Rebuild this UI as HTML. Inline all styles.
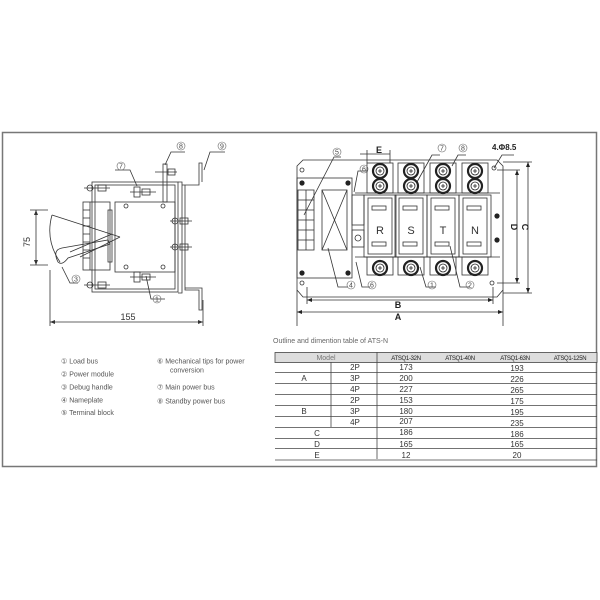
<!DOCTYPE html>
<html><head><meta charset="utf-8"><style>
html,body{margin:0;padding:0;background:#fff;}
svg{display:block;font-family:"Liberation Sans",sans-serif;}
</style></head><body>
<svg width="600" height="600" viewBox="0 0 600 600" xmlns="http://www.w3.org/2000/svg">
<defs><g id="b"><circle r="7" stroke="#222" stroke-width="2.2" fill="#fff"/><circle r="4" stroke="#222" stroke-width="0.8" fill="#fff"/><path d="M-2,0H2M0,-2V2" stroke="#222" stroke-width="0.8"/></g></defs>
<rect x="0" y="0" width="600" height="600" fill="#fff"/>
<rect x="2.5" y="132.5" width="594" height="334" fill="none" stroke="#777" stroke-width="1.5"/>

<g stroke="#333" stroke-width="0.8" fill="none">
  <rect x="92" y="182" width="86" height="110"/>
  <rect x="95" y="185" width="80" height="104"/>
  <polyline points="178,182 182,182 182,293 178,293"/>
  <polyline points="182,185 199,185 199,163 202,163 202,182"/>
  <polyline points="185,185 185,290 199,290 199,310 202,310 202,288 185,288"/>
  <rect x="115" y="202" width="60" height="70"/>
  <circle cx="126" cy="206" r="2"/><circle cx="163" cy="206" r="2"/>
  <circle cx="126" cy="267" r="2"/><circle cx="163" cy="267" r="2"/>
  <rect x="83" y="202" width="27" height="68"/>
  <line x1="90" y1="202" x2="90" y2="270"/>
  <line x1="83" y1="210" x2="90" y2="210"/><line x1="83" y1="218" x2="90" y2="218"/>
  <line x1="83" y1="226" x2="90" y2="226"/><line x1="83" y1="234" x2="90" y2="234"/>
  <line x1="83" y1="242" x2="90" y2="242"/><line x1="83" y1="250" x2="90" y2="250"/>
  <line x1="83" y1="258" x2="90" y2="258"/>
  <rect x="108" y="210" width="4" height="52"/>
  <line x1="52" y1="215" x2="120" y2="237"/>
  <line x1="80" y1="257" x2="120" y2="237"/>
  <path d="M52,215 Q45,240 60,262"/>
  <path d="M58,262 Q52,250 62,248 L108,240 L110,244 L68,258 Q62,266 58,262 Z"/>
  <line x1="70" y1="252" x2="112" y2="234"/>
  <line x1="84" y1="188" x2="110" y2="188"/><rect x="98" y="185" width="8" height="6"/><circle cx="90" cy="188" r="3"/>
  <line x1="84" y1="285" x2="110" y2="285"/><rect x="98" y="282" width="8" height="6"/><circle cx="90" cy="285" r="3"/>
  <line x1="130" y1="192" x2="156" y2="192"/><rect x="134" y="187" width="6" height="10"/><rect x="142" y="189" width="8" height="6"/>
  <line x1="130" y1="277" x2="156" y2="277"/><rect x="134" y="272" width="6" height="10"/><rect x="142" y="274" width="8" height="6"/>
  <line x1="155" y1="172" x2="177" y2="172"/><rect x="163" y="164" width="4" height="38"/><rect x="168" y="169" width="7" height="6"/>
  <line x1="170" y1="221" x2="192" y2="221"/><circle cx="175" cy="221" r="3"/><rect x="180" y="218" width="8" height="6"/>
  <line x1="170" y1="247" x2="192" y2="247"/><circle cx="175" cy="247" r="3"/><rect x="180" y="244" width="8" height="6"/>
  <line x1="36" y1="210" x2="36" y2="265"/><line x1="30" y1="210" x2="48" y2="210"/><line x1="30" y1="265" x2="48" y2="265"/>
  <line x1="50" y1="270" x2="50" y2="326"/><line x1="203" y1="300" x2="203" y2="326"/>
  <line x1="50" y1="322" x2="203" y2="322"/>
  <polyline points="62,267 70,283 78,283"/>
  <polyline points="146,276 151,299 165,299"/>
  <polyline points="137,186 130,170 115,170"/>
  <polyline points="165,165 171,152 185,152"/>
  <polyline points="204,170 210,152 225,152"/>
</g>
<g fill="#333"><path d="M36,210 l-2,5 h4z"/><path d="M36,265 l-2,-5 h4z"/><path d="M50,322 l5,-2 v4z"/><path d="M203,322 l-5,-2 v4z"/></g>
<g font-size="8" fill="#333">
  <text x="30" y="242" transform="rotate(-90 30 242)" text-anchor="middle" font-size="9">75</text>
  <text x="128" y="320" text-anchor="middle" font-size="9">155</text>
</g>
<g font-size="7" fill="#444" text-anchor="middle">
  <circle cx="76" cy="279" r="4" fill="none" stroke="#666" stroke-width="0.6"/><text x="76" y="281.5">3</text>
  <circle cx="157" cy="299" r="4" fill="none" stroke="#666" stroke-width="0.6"/><text x="157" y="301.5">1</text>
  <circle cx="121" cy="166" r="4" fill="none" stroke="#666" stroke-width="0.6"/><text x="121" y="168.5">7</text>
  <circle cx="181" cy="146" r="4" fill="none" stroke="#666" stroke-width="0.6"/><text x="181" y="148.5">8</text>
  <circle cx="222" cy="146" r="4" fill="none" stroke="#666" stroke-width="0.6"/><text x="222" y="148.5">9</text>
</g>

<g stroke="#333" stroke-width="0.8" fill="none">
  <path d="M303,160 H497 L503,166 V290 L497,297 H303 L297,290 V166 Z"/>
  <rect x="297" y="178" width="55" height="100"/>
  <rect x="298" y="190" width="16" height="60"/>
  <line x1="298" y1="200" x2="314" y2="200"/><line x1="298" y1="210" x2="314" y2="210"/><line x1="298" y1="220" x2="314" y2="220"/><line x1="298" y1="230" x2="314" y2="230"/><line x1="298" y1="240" x2="314" y2="240"/>
  <line x1="306" y1="190" x2="306" y2="250"/>
  <rect x="322" y="190" width="25" height="60"/><line x1="322" y1="190" x2="347" y2="250"/><line x1="347" y1="190" x2="322" y2="250"/>
  <rect x="352" y="195" width="12" height="30"/><rect x="352" y="230" width="12" height="17"/>
  <circle cx="358" cy="238" r="3"/>
  <line x1="355" y1="193" x2="500" y2="193"/><line x1="355" y1="257" x2="500" y2="257"/>
  <circle cx="302" cy="170" r="2"/><circle cx="302" cy="283" r="2"/><circle cx="492" cy="283" r="2"/><circle cx="494" cy="168" r="2"/>
  <g id="pole">
    <rect x="367" y="163" width="26" height="30"/>
    <rect x="367" y="257" width="26" height="18"/>
    <rect x="364" y="195" width="32" height="62"/>
    <rect x="368" y="198" width="24" height="56"/>
    <rect x="372" y="206" width="14" height="4"/><rect x="372" y="242" width="14" height="4"/>
  </g>
  <use href="#pole" x="31"/><use href="#pole" x="63"/><use href="#pole" x="95"/>
  <line x1="297" y1="290" x2="297" y2="326"/><line x1="503" y1="290" x2="503" y2="326"/>
  <line x1="307" y1="287" x2="307" y2="304"/><line x1="493" y1="287" x2="493" y2="304"/>
  <line x1="297" y1="312" x2="503" y2="312"/><line x1="307" y1="300" x2="493" y2="300"/>
  <line x1="497" y1="170" x2="520" y2="170"/><line x1="497" y1="283" x2="520" y2="283"/>
  <line x1="517" y1="170" x2="517" y2="283"/>
  <line x1="503" y1="162" x2="532" y2="162"/><line x1="503" y1="293" x2="532" y2="293"/>
  <line x1="528" y1="162" x2="528" y2="293"/>
  <line x1="360" y1="154" x2="390" y2="154"/><line x1="367" y1="150" x2="367" y2="163"/><line x1="390" y1="150" x2="390" y2="163"/>
  <polyline points="304,215 334,157 341,157"/>
  <polyline points="328,248 338,287 348,287"/>
  <polyline points="356,262 362,287 370,287"/>
  <polyline points="354,192 358,171 368,171"/>
  <polyline points="417,182 432,155 440,155"/>
  <polyline points="452,166 458,155 466,155"/>
  <polyline points="420,267 426,287 436,287"/>
  <polyline points="450,246 460,287 470,287"/>
  <polyline points="494,168 502,155 514,155"/>
</g>
<g fill="#222">
  <circle cx="302" cy="183" r="2.6"/><circle cx="348" cy="183" r="2.6"/><circle cx="302" cy="273" r="2.6"/><circle cx="348" cy="273" r="2.6"/>
  <circle cx="497" cy="216" r="2.6"/><circle cx="497" cy="240" r="2.6"/>
  <path d="M297,312 l5,-2 v4z"/><path d="M503,312 l-5,-2 v4z"/><path d="M307,300 l5,-2 v4z"/><path d="M493,300 l-5,-2 v4z"/>
  <path d="M517,170 l-2,5 h4z"/><path d="M517,283 l-2,-5 h4z"/><path d="M528,162 l-2,5 h4z"/><path d="M528,293 l-2,-5 h4z"/>
</g>
<use href="#b" x="380" y="171"/><use href="#b" x="380" y="186"/><use href="#b" x="380" y="268"/>
<use href="#b" x="411" y="171"/><use href="#b" x="411" y="186"/><use href="#b" x="411" y="268"/>
<use href="#b" x="443" y="171"/><use href="#b" x="443" y="186"/><use href="#b" x="443" y="268"/>
<use href="#b" x="475" y="171"/><use href="#b" x="475" y="186"/><use href="#b" x="475" y="268"/>
<g font-size="11" fill="#333" text-anchor="middle">
  <text x="380" y="234">R</text><text x="411" y="234">S</text><text x="443" y="234">T</text><text x="475" y="234">N</text>
</g>
<g font-size="9" font-weight="bold" fill="#222" text-anchor="middle">
  <text x="398" y="308">B</text><text x="398" y="320">A</text>
  <text x="379" y="153">E</text>
  <text x="511" y="227" transform="rotate(90 511 227)">D</text>
  <text x="522" y="227" transform="rotate(90 522 227)">C</text>
  <text x="492" y="150" text-anchor="start" font-size="8">4.Φ8.5</text>
</g>
<g font-size="7" fill="#444" text-anchor="middle">
  <circle cx="337" cy="152" r="4" fill="none" stroke="#666" stroke-width="0.6"/><text x="337" y="154.5">5</text>
  <circle cx="364" cy="169" r="4" fill="none" stroke="#666" stroke-width="0.6"/><text x="364" y="171.5">6</text>
  <circle cx="351" cy="285" r="4" fill="none" stroke="#666" stroke-width="0.6"/><text x="351" y="287.5">4</text>
  <circle cx="372" cy="285" r="4" fill="none" stroke="#666" stroke-width="0.6"/><text x="372" y="287.5">6</text>
  <circle cx="432" cy="285" r="4" fill="none" stroke="#666" stroke-width="0.6"/><text x="432" y="287.5">1</text>
  <circle cx="470" cy="285" r="4" fill="none" stroke="#666" stroke-width="0.6"/><text x="470" y="287.5">2</text>
  <circle cx="442" cy="148" r="4" fill="none" stroke="#666" stroke-width="0.6"/><text x="442" y="150.5">7</text>
  <circle cx="463" cy="148" r="4" fill="none" stroke="#666" stroke-width="0.6"/><text x="463" y="150.5">8</text>
</g>

<g font-size="7" fill="#555">
  <text x="61" y="363.5">① Load bus</text>
  <text x="61" y="376.5">② Power module</text>
  <text x="61" y="389.5">③ Debug handle</text>
  <text x="61" y="402.5">④ Nameplate</text>
  <text x="61" y="415">⑤ Terminal block</text>
  <text x="157" y="363.5">⑥ Mechanical tips for power</text>
  <text x="170" y="372.5">conversion</text>
  <text x="157" y="389.5">⑦ Main power bus</text>
  <text x="157" y="403.5">⑧ Standby power bus</text>
</g>

<text x="273" y="343" font-size="7" fill="#666">Outline and dimention table of ATS-N</text>
<rect x="275" y="352.5" width="322" height="10" fill="#ddd" stroke="#444" stroke-width="0.8"/>
<g stroke="#444" stroke-width="0.8">
  <line x1="377" y1="352" x2="377" y2="459"/>
  <line x1="331" y1="362" x2="331" y2="427"/>
  <line x1="275" y1="372.5" x2="597" y2="372.5"/><line x1="275" y1="383.5" x2="597" y2="383.5"/>
  <line x1="275" y1="394.5" x2="597" y2="394.5"/><line x1="275" y1="405.5" x2="597" y2="405.5"/>
  <line x1="275" y1="416.5" x2="597" y2="416.5"/><line x1="275" y1="427.5" x2="597" y2="427.5"/>
  <line x1="275" y1="438.5" x2="597" y2="438.5"/><line x1="275" y1="448.5" x2="597" y2="448.5"/>
  <line x1="275" y1="460" x2="597" y2="460"/>
</g>
<g font-size="6" fill="#222" text-anchor="middle" letter-spacing="-0.3">
  <text x="406" y="360">ATSQ1-32N</text><text x="460" y="360">ATSQ1-40N</text><text x="515" y="360">ATSQ1-63N</text><text x="570" y="360">ATSQ1-125N</text>
</g>
<text x="326" y="360" font-size="7" fill="#777" text-anchor="middle">Model</text>
<g font-size="8" fill="#333" text-anchor="middle">
  <text x="355" y="370">2P</text><text x="355" y="381">3P</text><text x="355" y="392">4P</text>
  <text x="355" y="403">2P</text><text x="355" y="414">3P</text><text x="355" y="425">4P</text>
  <text x="304" y="381">A</text><text x="304" y="414">B</text>
  <text x="317" y="436">C</text><text x="317" y="447">D</text><text x="317" y="458">E</text>
  <text x="406" y="370">173</text><text x="406" y="381">200</text><text x="406" y="392">227</text>
  <text x="406" y="403">153</text><text x="406" y="414">180</text><text x="406" y="424">207</text>
  <text x="406" y="435">186</text><text x="406" y="447">165</text><text x="406" y="458">12</text>
  <text x="517" y="371">193</text><text x="517" y="382">226</text><text x="517" y="393">265</text>
  <text x="517" y="404">175</text><text x="517" y="415">195</text><text x="517" y="426">235</text>
  <text x="517" y="437">186</text><text x="517" y="447">165</text><text x="517" y="458">20</text>
</g>
</svg>
</body></html>
